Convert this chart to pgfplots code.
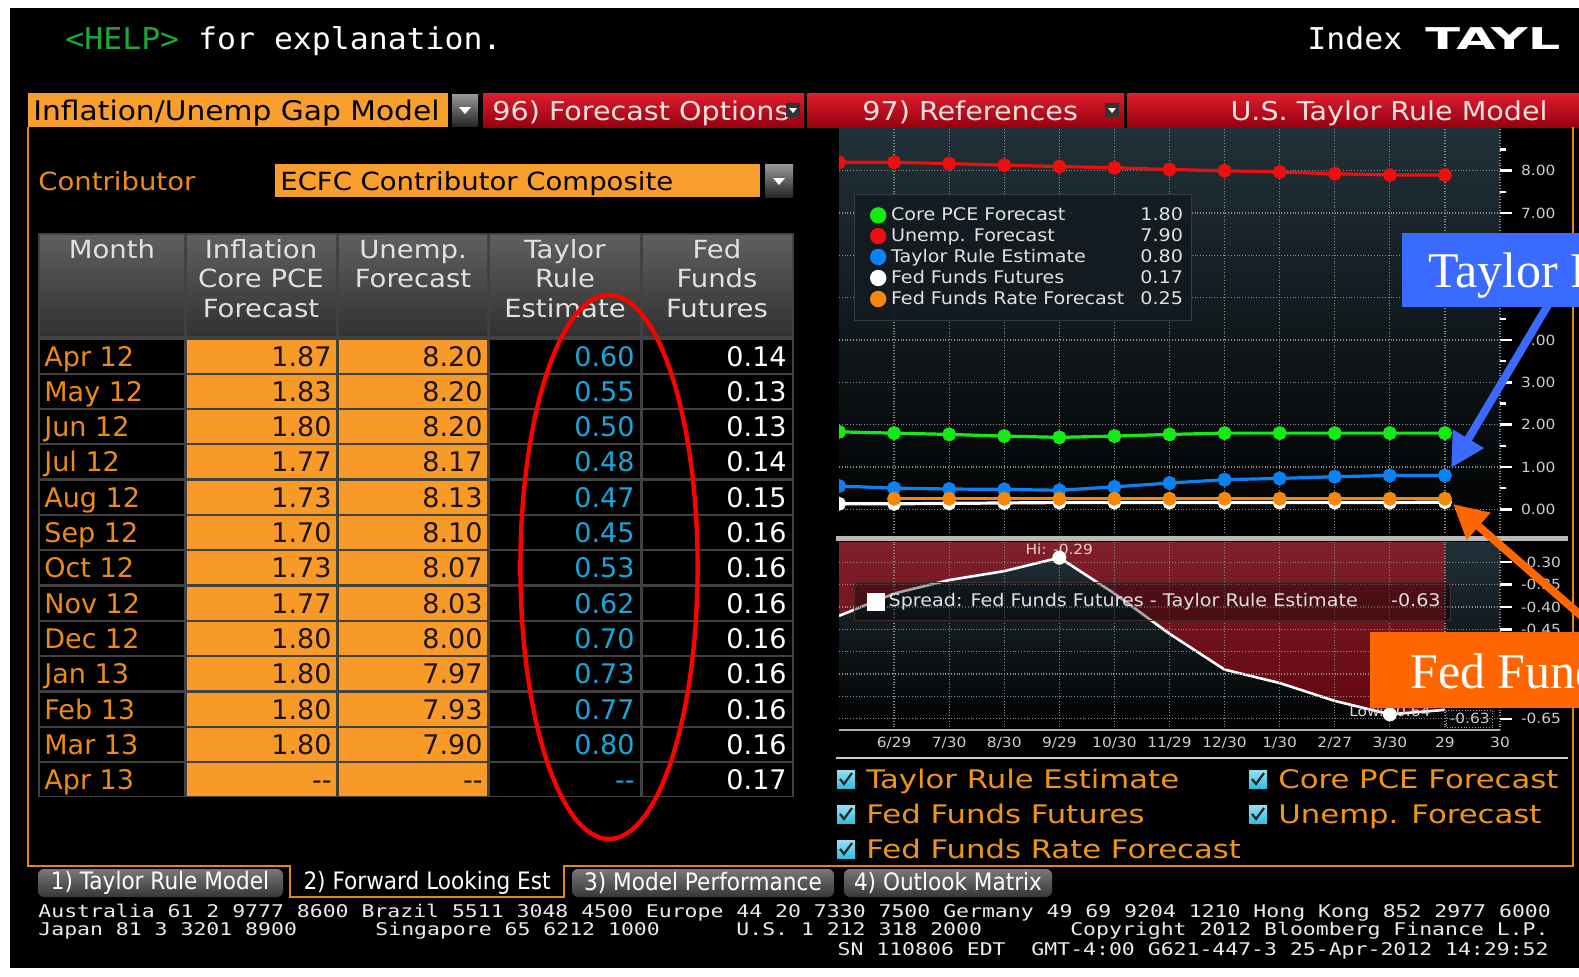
\documentclass[border=0pt]{standalone}
\usepackage{pgfplots}
\pgfplotsset{compat=1.18}
\usepackage{fontspec}
\usetikzlibrary{arrows.meta}
\setmainfont{DejaVu Sans}
\newfontfamily\bb{DejaVu Sans}[FakeStretch=1.1]
\newfontfamily\bbw{DejaVu Sans}[FakeStretch=1.2]
\newfontfamily\bbn{DejaVu Sans}[FakeStretch=0.9]
\newfontfamily\bbm{DejaVu Sans Mono}[FakeStretch=1.227]
\newfontfamily\hm{DejaVu Sans Mono}[FakeStretch=1.05]
\newfontfamily\wideb{DejaVu Sans}[FakeStretch=1.7]
\newfontfamily\tms{Liberation Serif}
\newcommand\fs[1]{\fontsize{#1}{#1}\selectfont}

\definecolor{barorange}{RGB}{248,158,44}
\definecolor{cellorange}{RGB}{247,154,40}
\definecolor{bbotext}{RGB}{236,140,20}
\definecolor{helpgreen}{RGB}{30,170,50}
\definecolor{bbredt}{RGB}{222,30,45}
\definecolor{bbredb}{RGB}{150,0,15}
\definecolor{bartext}{RGB}{245,225,225}
\definecolor{hdtop}{RGB}{95,95,95}
\definecolor{hdbot}{RGB}{50,50,50}
\definecolor{hdtext}{RGB}{225,225,225}
\definecolor{tablegrid}{RGB}{65,65,65}
\definecolor{cyantext}{RGB}{25,166,216}
\definecolor{celltext}{RGB}{30,20,10}
\definecolor{slate}{RGB}{33,49,57}
\definecolor{slatemid}{RGB}{20,28,33}
\definecolor{redtop}{RGB}{128,32,42}
\definecolor{redbot}{RGB}{98,6,16}
\definecolor{gridc}{RGB}{140,140,140}
\definecolor{tickc}{RGB}{205,205,205}
\definecolor{legbg}{RGB}{19,27,32}
\definecolor{legdraw}{RGB}{50,60,66}
\definecolor{legdrawb}{RGB}{70,45,45}
\definecolor{legtext}{RGB}{225,225,225}
\definecolor{cgreen}{RGB}{20,235,20}
\definecolor{cred}{RGB}{235,15,15}
\definecolor{cblue}{RGB}{10,130,245}
\definecolor{corange}{RGB}{245,135,10}
\definecolor{annblue}{RGB}{58,106,255}
\definecolor{annorange}{RGB}{255,102,0}
\definecolor{legorange}{RGB}{240,150,20}
\definecolor{chkc}{RGB}{50,190,225}
\definecolor{footc}{RGB}{235,235,235}
\definecolor{frameorange}{RGB}{225,135,20}
\definecolor{tabt}{RGB}{120,120,120}
\definecolor{tabb}{RGB}{55,55,55}
\definecolor{hitext}{RGB}{235,205,205}

\pgfplotsset{
  lgdot/.style={legend image code/.code={\path[draw=none, fill=none] (0pt,-1pt) rectangle (14.2pt,1pt);
    \fill[fill opacity=1, draw=none] (9.8pt,0pt) circle (4.1pt);}},
  bbnum/.style={yticklabel={\pgfmathprintnumber[fixed,fixed zerofill,precision=2,assume math mode=true]{\tick}}},
}

\begin{document}
\begin{tikzpicture}
\path[use as bounding box] (0pt,0pt) rectangle (789.5pt,-488pt);
\clip (0pt,0pt) rectangle (789.5pt,-488pt);

% ---------- screen furniture, in pixel units ----------
\begin{scope}[x=0.5pt,y=-0.5pt]
\fill[white] (0,0) rectangle (1579,976);
\fill[black] (10,8) rectangle (1579,968);

\node[anchor=base west, inner sep=0, text=white, font=\hm\fs{15}] at (65,49) {\textcolor{helpgreen}{<HELP>} for explanation.};
\node[anchor=base west, inner sep=0, text=white, font=\hm\fs{15}] at (1307,49) {Index};
\node[anchor=base west, inner sep=0, text=white, font=\wideb\bfseries\fs{15}] at (1425,49) {TAYL};

% header bar
\fill[barorange] (28,93) rectangle (448,127);
\node[anchor=base west, inner sep=0, font=\bb\fs{13.5}, text=black] at (33,120) {Inflation/Unemp Gap Model};
\shade[top color=gray!80, bottom color=gray!30!black] (452,94) rectangle (478,126);
\fill[white] (459,107) -- (471,107) -- (465,114) -- cycle;
\shade[top color=bbredt, bottom color=bbredb] (483,93) rectangle (804,127);
\shade[top color=bbredt, bottom color=bbredb] (807,93) rectangle (1124,127);
\shade[top color=bbredt, bottom color=bbredb] (1127,93) rectangle (1579,127);
\node[anchor=base west, inner sep=0, font=\bb\fs{13}, text=bartext] at (492,120) {96) Forecast Options};
\node[anchor=base west, inner sep=0, font=\bb\fs{13}, text=bartext] at (862,120) {97) References};
\node[anchor=base east, inner sep=0, font=\bb\fs{13}, text=bartext] at (1548,120) {U.S. Taylor Rule Model};
\fill[black!80] (786,103) rectangle (800,117);
\fill[white] (789,108) -- (797,108) -- (793,113) -- cycle;
\fill[black!80] (1105,103) rectangle (1119,117);
\fill[white] (1108,108) -- (1116,108) -- (1112,113) -- cycle;

% contributor
\node[anchor=base west, inner sep=0, font=\bb\fs{12.5}, text=bbotext] at (38,190) {Contributor};
\fill[barorange] (275,164) rectangle (760,197);
\node[anchor=base west, inner sep=0, font=\bb\fs{12.5}, text=black] at (280,190) {ECFC Contributor Composite};
\shade[top color=gray!80, bottom color=gray!30!black] (765,164) rectangle (793,197);
\fill[white] (773,178) -- (785,178) -- (779,185) -- cycle;

% table
\fill[tablegrid] (38,233) rectangle (794,797);
\foreach \a/\b in {40/184,187/336,339/487,490/640,643/792}{
  \shade[top color=hdtop, bottom color=hdbot] (\a,235) rectangle (\b,335);
}
\begin{scope}[every node/.style={anchor=base, inner sep=0, font=\bb\fs{12.5}, text=hdtext}]
\node at (112,258) {Month};
\node at (261,258) {Inflation};
\node at (261,287) {Core PCE};
\node at (261,317) {Forecast};
\node at (413,258) {Unemp.};
\node at (413,287) {Forecast};
\node at (565,258) {Taylor};
\node at (565,287) {Rule};
\node at (565,317) {Estimate};
\node at (717,258) {Fed};
\node at (717,287) {Funds};
\node at (717,317) {Futures};
\end{scope}
\foreach \m/\i/\u/\t/\f [count=\r from 0] in {
  Apr 12/1.87/8.20/0.60/0.14, May 12/1.83/8.20/0.55/0.13, Jun 12/1.80/8.20/0.50/0.13,
  Jul 12/1.77/8.17/0.48/0.14, Aug 12/1.73/8.13/0.47/0.15, Sep 12/1.70/8.10/0.45/0.16,
  Oct 12/1.73/8.07/0.53/0.16, Nov 12/1.77/8.03/0.62/0.16, Dec 12/1.80/8.00/0.70/0.16,
  Jan 13/1.80/7.97/0.73/0.16, Feb 13/1.80/7.93/0.77/0.16, Mar 13/1.80/7.90/0.80/0.16,
  Apr 13/-{}-/-{}-/-{}-/0.17}{
  \pgfmathsetmacro\yt{339.5+35.3*\r}
  \pgfmathsetmacro\yb{\yt+33}
  \pgfmathsetmacro\yc{\yt+26.5}
  \fill[black] (40,\yt) rectangle (184,\yb);
  \fill[cellorange] (187,\yt) rectangle (336,\yb);
  \fill[cellorange] (339,\yt) rectangle (487,\yb);
  \fill[black] (490,\yt) rectangle (640,\yb);
  \fill[black] (643,\yt) rectangle (792,\yb);
  \node[anchor=base west, inner sep=0, font=\fs{13.5}, text=bbotext] at (44,\yc) {\m};
  \node[anchor=base east, inner sep=0, font=\fs{13.5}, text=celltext] at (332,\yc) {\i};
  \node[anchor=base east, inner sep=0, font=\fs{13.5}, text=celltext] at (483,\yc) {\u};
  \node[anchor=base east, inner sep=0, font=\fs{13.5}, text=cyantext] at (635,\yc) {\t};
  \node[anchor=base east, inner sep=0, font=\fs{13.5}, text=white] at (787,\yc) {\f};
}
\draw[red, line width=2.2pt] (609,567) ellipse (88.6 and 272);

% chart panel pieces
\fill[gray!55] (836,536) rectangle (1568,541);
\draw[gray!40, line width=0.6pt] (836,758) -- (1568,758);

% checkbox legend
\foreach \x/\y/\t in {837/779/Taylor Rule Estimate, 837/814/Fed Funds Futures, 837/849/Fed Funds Rate Forecast, 1249/779/Core PCE Forecast, 1249/814/Unemp. Forecast}{
  \shade[top color=chkc!50!white, bottom color=chkc] (\x,\y-9) rectangle ++(18,18);
  \draw[black!85, line width=1.1pt] (\x+3,\y) -- (\x+7,\y+5) -- (\x+15,\y-6);
  \node[anchor=base west, inner sep=0, font=\bbw\fs{12.8}, text=legorange] at (\x+29,\y+9) {\t};
}

% tabs and frame
\shade[top color=tabt, bottom color=tabb, rounded corners=3] (38,869) rectangle (283,897);
\shade[top color=tabt, bottom color=tabb, rounded corners=3] (572,869) rectangle (834,897);
\shade[top color=tabt, bottom color=tabb, rounded corners=3] (844,869) rectangle (1052,897);
\draw[frameorange, line width=1pt] (28,127) -- (28,866) -- (290,866) -- (290,897) -- (564,897) -- (564,866) -- (1573,866) -- (1573,127);
\begin{scope}[every node/.style={inner sep=0, font=\bbn\fs{12}, text=white}]
\node at (160,883) {1) Taylor Rule Model};
\node at (427,883) {2) Forward Looking Est};
\node at (703,883) {3) Model Performance};
\node at (948,883) {4) Outlook Matrix};
\end{scope}

% footer
\begin{scope}[every node/.style={anchor=base west, inner sep=0, text=footc, font=\bbm\fs{8.75}}]
\node at (38,917) {Australia 61 2 9777 8600 Brazil 5511 3048 4500 Europe 44 20 7330 7500 Germany 49 69 9204 1210 Hong Kong 852 2977 6000};
\node at (38,935) {Japan 81 3 3201 8900};
\node at (375,935) {Singapore 65 6212 1000};
\node at (736,935) {U.S. 1 212 318 2000};
\node[anchor=base east] at (1549,935) {Copyright 2012 Bloomberg Finance L.P.};
\node[anchor=base east] at (1549,955) {SN 110806 EDT\ \ GMT-4:00 G621-447-3 25-Apr-2012 14:29:52};
\end{scope}
\end{scope}

% ---------- upper panel: forecasts ----------
\begin{axis}[
  at={(419.5pt,-266.5pt)}, anchor=south west,
  scale only axis, width=330.5pt, height=202.5pt,
  xmin=0, xmax=12, ymin=-0.56, ymax=9.01,
  axis background/.style={shade, top color=slate, middle color=slatemid, bottom color=black},
  axis line style={draw=none},
  xtick={1,...,12}, xticklabels={},
  ytick={0,...,8}, minor ytick={0.5,1.5,...,8.5},
  ytick pos=right, yticklabel pos=right, xtick pos=bottom,
  tick align=outside, major tick length=6pt, minor tick length=3pt,
  xtick style={draw=none},
  ytick style={draw=white, line width=1.3pt},
  minor tick style={draw=gray!80, line width=0.8pt},
  bbnum,
  yticklabel style={font=\bb\fs{7}, text=tickc, xshift=1pt},
  grid=major, grid style={densely dotted, draw=gridc, line width=0.6pt},
  clip marker paths=true,
  legend style={at={(0.023,0.837)}, anchor=north west, draw=legdraw, fill=legbg,
    fill opacity=0.9, text opacity=1, font=\bb\fs{8.7}, text=legtext,
    inner xsep=2pt, inner ysep=4.5pt, row sep=-1.6pt},
  legend cell align=left,
]
\addplot[color=cgreen, line width=1.6pt, mark=*, mark size=2.7pt, lgdot] coordinates {
  (0,1.83) (1,1.80) (2,1.77) (3,1.73) (4,1.70) (5,1.73) (6,1.77) (7,1.80) (8,1.80) (9,1.80) (10,1.80) (11,1.80)};
\addlegendentry{\makebox[146pt][l]{Core PCE Forecast\hfill 1.80}}
\addplot[color=cred, line width=1.6pt, mark=*, mark size=2.7pt, lgdot] coordinates {
  (0,8.20) (1,8.20) (2,8.17) (3,8.13) (4,8.10) (5,8.07) (6,8.03) (7,8.00) (8,7.97) (9,7.93) (10,7.90) (11,7.90)};
\addlegendentry{\makebox[146pt][l]{Unemp. Forecast\hfill 7.90}}
\addplot[color=cblue, line width=1.6pt, mark=*, mark size=2.7pt, lgdot] coordinates {
  (0,0.55) (1,0.50) (2,0.48) (3,0.47) (4,0.45) (5,0.53) (6,0.62) (7,0.70) (8,0.73) (9,0.77) (10,0.80) (11,0.80)};
\addlegendentry{\makebox[146pt][l]{Taylor Rule Estimate\hfill 0.80}}
\addplot[color=white, line width=1.6pt, mark=*, mark size=2.7pt, lgdot] coordinates {
  (0,0.13) (1,0.13) (2,0.14) (3,0.15) (4,0.16) (5,0.16) (6,0.16) (7,0.16) (8,0.16) (9,0.16) (10,0.16) (11,0.17)};
\addlegendentry{\makebox[146pt][l]{Fed Funds Futures\hfill 0.17}}
\addplot[color=corange, line width=1.6pt, mark=*, mark size=2.7pt, lgdot] coordinates {
  (1,0.25) (2,0.25) (3,0.25) (4,0.25) (5,0.25) (6,0.25) (7,0.25) (8,0.25) (9,0.25) (10,0.25) (11,0.25)};
\addlegendentry{\makebox[146pt][l]{Fed Funds Rate Forecast\hfill 0.25}}
\end{axis}

% ---------- lower panel: spread ----------
\begin{axis}[
  at={(419.5pt,-365pt)}, anchor=south west,
  scale only axis, width=330.5pt, height=94pt,
  xmin=0, xmax=12, ymin=-0.675, ymax=-0.255,
  axis background/.style={shade, top color=slate, bottom color=black},
  axis on top,
  axis x line*=bottom, axis y line*=right,
  axis line style={-},
  x axis line style={draw=gray!60, line width=0.8pt},
  y axis line style={draw=none},
  xtick={1,...,12},
  xticklabels={6/29,7/30,8/30,9/29,10/30,11/29,12/30,1/30,2/27,3/30,29,30},
  xtick style={draw=none},
  xticklabel style={font=\bb\fs{7}, text=tickc, yshift=6pt},
  ytick={-0.65,-0.6,-0.55,-0.5,-0.45,-0.4,-0.35,-0.3},
  tick align=outside, major tick length=6pt,
  ytick style={draw=white, line width=1.3pt},
  bbnum,
  yticklabel style={font=\bb\fs{7}, text=tickc, xshift=1pt},
  grid=major, grid style={densely dotted, draw=gridc, line width=0.6pt},
  legend style={at={(0.023,0.787)}, anchor=north west, draw=legdrawb, fill=black,
    fill opacity=0.35, draw opacity=1, text opacity=1, font=\bb\fs{8.7}, text=legtext,
    inner xsep=3pt, inner ysep=3.5pt},
]
\addplot[forget plot, draw=none, top color=redtop, bottom color=redbot] coordinates {
  (0,-0.255) (0,-0.42) (1,-0.37) (2,-0.34) (3,-0.32) (4,-0.29) (5,-0.37) (6,-0.46)
  (7,-0.54) (8,-0.57) (9,-0.61) (10,-0.64) (11,-0.63) (11,-0.255)} -- cycle;
\addplot[white, line width=1.3pt,
  legend image code/.code={\path[draw=none, fill=none] (0pt,-1pt) rectangle (12pt,1pt);
    \fill[white, fill opacity=1, draw=none] (3pt,-4.5pt) rectangle (12pt,4.5pt);}] coordinates {
  (0,-0.42) (1,-0.37) (2,-0.34) (3,-0.32) (4,-0.29) (5,-0.37) (6,-0.46)
  (7,-0.54) (8,-0.57) (9,-0.61) (10,-0.64) (11,-0.63)};
\addlegendentry{\makebox[276pt][l]{Spread: Fed Funds Futures - Taylor Rule Estimate\hfill -0.63}}
\node[font=\bb\fs{7}, text=tickc!80, inner sep=0] at (axis cs:10,-0.633) {Low: -0.64};
\addplot[forget plot, only marks, mark=*, white, mark size=3.3pt] coordinates {(4,-0.29) (10,-0.64)};
\node[font=\bb\fs{7}, text=hitext, inner sep=0] at (axis cs:4,-0.2715) {Hi: -0.29};
\node[font=\bb\fs{7}, text=tickc, draw=gray!70, densely dotted, inner sep=1.5pt] at (axis cs:11.45,-0.650) {-0.63};
\end{axis}

% ---------- call-outs ----------
\begin{scope}[x=0.5pt,y=-0.5pt]
\draw[annblue, line width=4pt, -{Triangle[length=17pt,width=17pt]}] (1548,305) -- (1451,468);
\fill[annblue] (1402,233) rectangle (1590,307);
\node[anchor=base west, inner sep=0, text=white, font=\tms\fs{25}] at (1428,287) {Taylor Rule Estimate};
\draw[annorange, line width=4pt, -{Triangle[length=17pt,width=17pt]}] (1640,667) -- (1453,504);
\fill[annorange] (1370,632) rectangle (1590,708);
\node[anchor=base west, inner sep=0, text=white, font=\tms\fs{25}] at (1410,688) {Fed Funds Futures};
\end{scope}
\end{tikzpicture}
\end{document}
